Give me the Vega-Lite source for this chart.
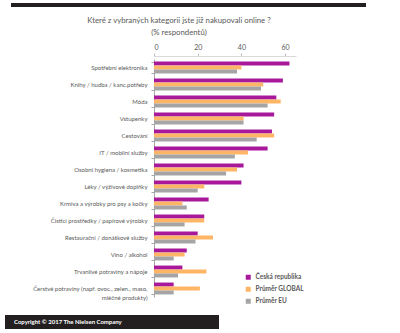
{
  "$schema": "https://vega.github.io/schema/vega-lite/v6.json",
  "background": "white",
  "padding": {"left": 5, "right": 5, "top": 3, "bottom": 3},
  "spacing": 10,
  "columns": 1,
  "resolve": {"scale": {"color": "independent"}, "legend": {"color": "independent"}},
  "config": {
    "font": "Lato",
    "view": {"stroke": null},
    "axis": {"labelFont": "Lato", "labelColor": "#595959"},
    "legend": {"labelFont": "Lato"}
  },
  "concat": [
    {
      "width": 212,
      "height": 4,
      "data": {"values": [{"a": 0, "b": 1}]},
      "mark": {"type": "rect", "color": "#231f20"},
      "encoding": {
        "x": {"field": "a", "type": "quantitative", "scale": {"domain": [0, 1], "range": [-143, 212], "nice": false, "zero": false}, "axis": null},
        "x2": {"field": "b"},
        "y": {"field": "a", "type": "quantitative", "scale": {"domain": [0, 1], "nice": false}, "axis": null},
        "y2": {"field": "b"}
      }
    },
    {
      "width": 142,
      "height": 238,
      "title": {
        "text": ["Které z vybraných kategorii jste již nakupovali online ?", "(% respondentů)"],
        "fontSize": 7.8,
        "fontWeight": "normal",
        "color": "#595959",
        "anchor": "middle",
        "frame": "group",
        "dx": -46,
        "lineHeight": 12,
        "offset": 6
      },
      "data": {
        "values": [
          {"category": "Spotřební elektronika", "series": "Česká republika", "value": 62},
          {"category": "Spotřební elektronika", "series": "Průměr GLOBAL", "value": 40},
          {"category": "Spotřební elektronika", "series": "Průměr EU", "value": 38},
          {"category": "Knihy / hudba / kanc.potřeby", "series": "Česká republika", "value": 59},
          {"category": "Knihy / hudba / kanc.potřeby", "series": "Průměr GLOBAL", "value": 50},
          {"category": "Knihy / hudba / kanc.potřeby", "series": "Průměr EU", "value": 49},
          {"category": "Móda", "series": "Česká republika", "value": 56},
          {"category": "Móda", "series": "Průměr GLOBAL", "value": 58},
          {"category": "Móda", "series": "Průměr EU", "value": 52},
          {"category": "Vstupenky", "series": "Česká republika", "value": 55},
          {"category": "Vstupenky", "series": "Průměr GLOBAL", "value": 41},
          {"category": "Vstupenky", "series": "Průměr EU", "value": 41},
          {"category": "Cestování", "series": "Česká republika", "value": 54},
          {"category": "Cestování", "series": "Průměr GLOBAL", "value": 55},
          {"category": "Cestování", "series": "Průměr EU", "value": 47},
          {"category": "IT / mobilní služby", "series": "Česká republika", "value": 52},
          {"category": "IT / mobilní služby", "series": "Průměr GLOBAL", "value": 43},
          {"category": "IT / mobilní služby", "series": "Průměr EU", "value": 37},
          {"category": "Osobní hygiena / kosmetika", "series": "Česká republika", "value": 41},
          {"category": "Osobní hygiena / kosmetika", "series": "Průměr GLOBAL", "value": 38},
          {"category": "Osobní hygiena / kosmetika", "series": "Průměr EU", "value": 33},
          {"category": "Léky / výživové doplňky", "series": "Česká republika", "value": 40},
          {"category": "Léky / výživové doplňky", "series": "Průměr GLOBAL", "value": 23},
          {"category": "Léky / výživové doplňky", "series": "Průměr EU", "value": 20},
          {"category": "Krmiva a výrobky pro psy a kočky", "series": "Česká republika", "value": 25},
          {"category": "Krmiva a výrobky pro psy a kočky", "series": "Průměr GLOBAL", "value": 13},
          {"category": "Krmiva a výrobky pro psy a kočky", "series": "Průměr EU", "value": 15},
          {"category": "Čisticí prostředky / papírové výrobky", "series": "Česká republika", "value": 23},
          {"category": "Čisticí prostředky / papírové výrobky", "series": "Průměr GLOBAL", "value": 23},
          {"category": "Čisticí prostředky / papírové výrobky", "series": "Průměr EU", "value": 14},
          {"category": "Restaurační / donáškové služby", "series": "Česká republika", "value": 20},
          {"category": "Restaurační / donáškové služby", "series": "Průměr GLOBAL", "value": 27},
          {"category": "Restaurační / donáškové služby", "series": "Průměr EU", "value": 19},
          {"category": "Víno / alkohol", "series": "Česká republika", "value": 15},
          {"category": "Víno / alkohol", "series": "Průměr GLOBAL", "value": 14},
          {"category": "Víno / alkohol", "series": "Průměr EU", "value": 9},
          {"category": "Trvanlivé potraviny a nápoje", "series": "Česká republika", "value": 13},
          {"category": "Trvanlivé potraviny a nápoje", "series": "Průměr GLOBAL", "value": 24},
          {"category": "Trvanlivé potraviny a nápoje", "series": "Průměr EU", "value": 11},
          {"category": "Čerstvé potraviny (např. ovoc., zelen., maso, mléčné produkty)", "series": "Česká republika", "value": 9},
          {"category": "Čerstvé potraviny (např. ovoc., zelen., maso, mléčné produkty)", "series": "Průměr GLOBAL", "value": 21},
          {"category": "Čerstvé potraviny (např. ovoc., zelen., maso, mléčné produkty)", "series": "Průměr EU", "value": 9}
        ]
      },
      "mark": {"type": "bar"},
      "encoding": {
        "y": {
          "field": "category",
          "type": "nominal",
          "sort": null,
          "title": null,
          "scale": {"paddingInner": 0.3, "paddingOuter": 0.15},
          "axis": {
            "tickBand": "extent",
            "labelFontSize": 6,
            "labelPadding": 4,
            "tickSize": 3,
            "tickColor": "#a6a6a6",
            "domainColor": "#a6a6a6",
            "labelLimit": 200,
            "labelLineHeight": 9,
            "minExtent": 148,
            "labelExpr": "datum.index == 1 ? ['Čerstvé potraviny (např. ovoc., zelen., maso,', 'mléčné produkty)'] : datum.value"
          }
        },
        "yOffset": {"field": "series", "type": "nominal", "sort": ["Česká republika", "Průměr GLOBAL", "Průměr EU"]},
        "x": {
          "field": "value",
          "type": "quantitative",
          "title": null,
          "scale": {"domain": [0, 65], "nice": false},
          "axis": {
            "orient": "top",
            "values": [0, 20, 40, 60],
            "labelFontSize": 7,
            "grid": false,
            "domainColor": "#d9d9d9",
            "tickColor": "#bfbfbf",
            "tickSize": 3,
            "labelPadding": 3,
            "offset": 3
          }
        },
        "color": {
          "field": "series",
          "type": "nominal",
          "sort": ["Česká republika", "Průměr GLOBAL", "Průměr EU"],
          "scale": {"domain": ["Česká republika", "Průměr GLOBAL", "Průměr EU"], "range": ["#a8189b", "#ffb566", "#a5a5a5"]},
          "legend": {
            "title": null,
            "orient": "bottom-right",
            "offset": -8,
            "symbolType": "square",
            "symbolSize": 25,
            "labelFontSize": 6.5,
            "labelFontWeight": "bold",
            "labelColor": "#595959",
            "rowPadding": 5,
            "symbolStrokeWidth": 0
          }
        }
      }
    },
    {
      "width": 65,
      "height": 14,
      "data": {"values": [{"a": 0, "b": 1, "t": "Copyright © 2017 The Nielsen Company"}]},
      "layer": [
        {
          "mark": {"type": "rect", "color": "#231f20"},
          "encoding": {
            "x": {"field": "a", "type": "quantitative", "scale": {"domain": [0, 1], "range": [-149, 65], "nice": false, "zero": false}, "axis": null},
            "x2": {"field": "b"},
            "y": {"field": "a", "type": "quantitative", "scale": {"domain": [0, 1], "nice": false}, "axis": null},
            "y2": {"field": "b"}
          }
        },
        {
          "mark": {"type": "text", "color": "white", "fontSize": 6, "fontWeight": "bold", "align": "left", "dx": 9},
          "encoding": {
            "text": {"field": "t"},
            "x": {"field": "a", "type": "quantitative"}
          }
        }
      ]
    }
  ]
}
